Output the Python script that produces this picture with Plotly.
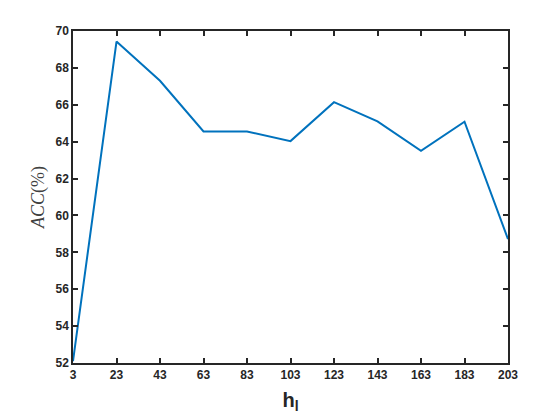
import plotly.graph_objects as go

h_l = [3, 23, 43, 63, 83, 103, 123, 143, 163, 183, 203]
acc = [52.1, 69.43, 67.3, 64.55, 64.55, 64.03, 66.14, 65.1, 63.5, 65.08, 58.72]
x_ticks = [3, 23, 43, 63, 83, 103, 123, 143, 163, 183, 203]
y_ticks = [52, 54, 56, 58, 60, 62, 64, 66, 68, 70]

fig = go.Figure(go.Scatter(
    x=h_l,
    y=acc,
    mode="lines",
    line=dict(color="#0072BD", width=2),
))

axis_style = dict(
    showline=True,
    linecolor="#262626",
    linewidth=1.5,
    mirror="ticks",
    ticks="inside",
    ticklen=5,
    tickwidth=1.5,
    tickcolor="#262626",
    showgrid=False,
    zeroline=False,
    automargin=False,
    tickfont=dict(family="Liberation Sans, Arial", size=12, color="#262626"),
)

fig.update_xaxes(
    range=[3, 203],
    tickvals=x_ticks,
    ticktext=[f"<b>{v}</b>" for v in x_ticks],
    title=dict(text="<b>h<sub>l</sub></b>", font=dict(family="Liberation Sans, Arial", size=20, color="#262626"), standoff=12),
    **axis_style,
)
fig.update_yaxes(
    range=[52, 70],
    tickvals=y_ticks,
    ticktext=[f"<b>{v}</b>" for v in y_ticks],
    title=dict(text="<i>ACC</i>(%)", font=dict(family="Liberation Serif, Times New Roman", size=18, color="#404040"), standoff=6),
    **axis_style,
)

# page body adds an 8px offset, so size the figure to the visible area
fig.update_layout(
    width=552,
    height=412,
    margin=dict(l=65, r=52, t=23, b=57),
    paper_bgcolor="white",
    plot_bgcolor="white",
    showlegend=False,
)

fig.write_html("out.html")
